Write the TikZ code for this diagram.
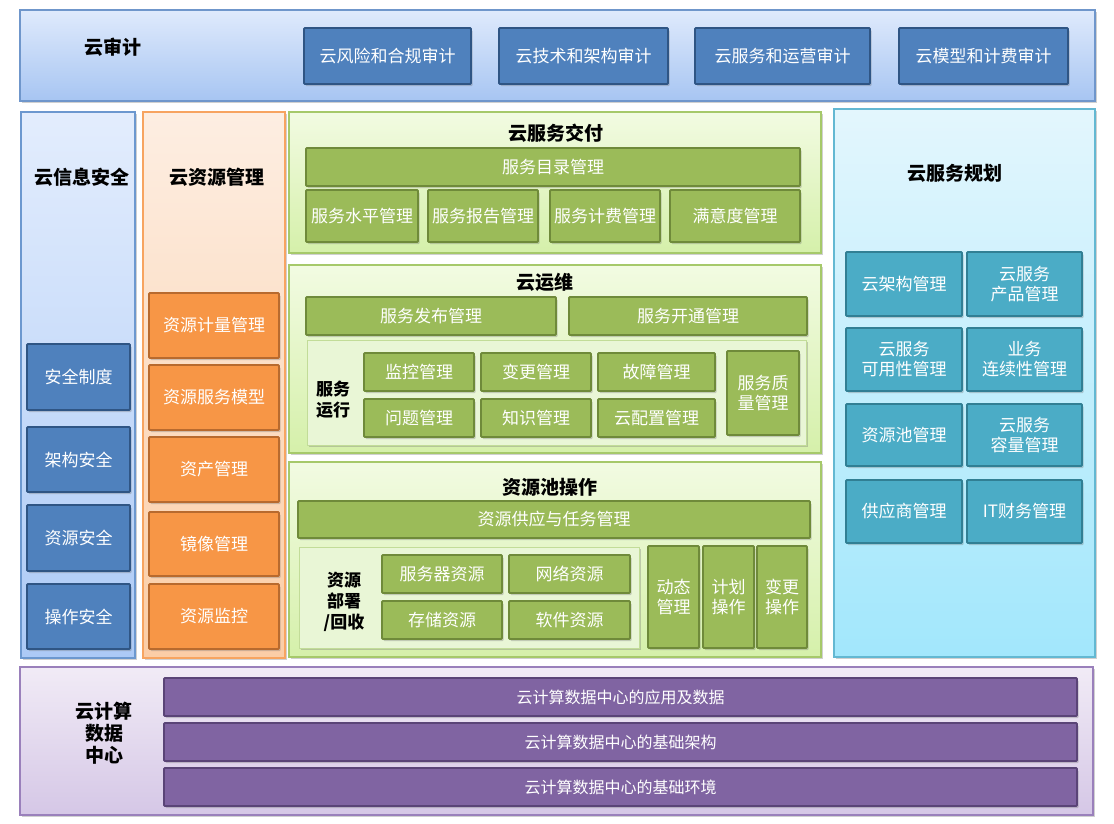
\documentclass[tikz,border=0pt]{standalone}
\usepackage{fontspec}
\setmainfont{Noto Sans CJK SC}
\usetikzlibrary{shadows}
\definecolor{bandTop}{HTML}{DFEAFC}
\definecolor{bandBot}{HTML}{A7C5F2}
\definecolor{bandDraw}{HTML}{6F96CB}
\definecolor{boxBlue}{HTML}{4F81BD}
\definecolor{boxBlueD}{HTML}{2F5584}
\definecolor{leftTop}{HTML}{E3EDFD}
\definecolor{leftBot}{HTML}{ACCAF6}
\definecolor{leftDraw}{HTML}{6C98CF}
\definecolor{orTop}{HTML}{FDEEE2}
\definecolor{orBot}{HTML}{FBCDA6}
\definecolor{orDraw}{HTML}{F7A460}
\definecolor{orBox}{HTML}{F79646}
\definecolor{orBoxD}{HTML}{B86A2E}
\definecolor{grTop}{HTML}{F2FBE2}
\definecolor{grBot}{HTML}{D5F0AA}
\definecolor{grDraw}{HTML}{A6C96A}
\definecolor{grBox}{HTML}{9BBB59}
\definecolor{grBoxD}{HTML}{6F8A3A}
\definecolor{grIn}{HTML}{E9F6D6}
\definecolor{grInD}{HTML}{C2DC98}
\definecolor{cyTop}{HTML}{E3F6FD}
\definecolor{cyBot}{HTML}{A2E7FC}
\definecolor{cyDraw}{HTML}{63B8D2}
\definecolor{teBox}{HTML}{4BACC6}
\definecolor{teBoxD}{HTML}{317F94}
\definecolor{puTop}{HTML}{F1EBF6}
\definecolor{puBot}{HTML}{D5C7E6}
\definecolor{puDraw}{HTML}{9A80BB}
\definecolor{puBox}{HTML}{8064A2}
\definecolor{puBoxD}{HTML}{5A4477}
\newcommand\mkbox[7]{\node[#1, minimum width={#5-#3}, minimum height={#6-#4}] (#2) at ({(#3+#5)/2},{(#4+#6)/2}) {#7};}
\begin{document}
\begin{tikzpicture}[x=1pt,y=-1pt,
  shad/.style={drop shadow={shadow xshift=1.5pt, shadow yshift=-2pt, opacity=0.3, fill=black!60}},
  panel/.style={shad, draw, line width=1.2pt, inner sep=0pt, outer sep=0pt},
  cellbox/.style={shad, draw, line width=1.8pt, rounded corners=1pt, text=white, align=center, inner sep=0pt, outer sep=0pt, font=\fontsize{17}{20}\selectfont},
  ttl/.style={inner sep=0pt, align=center, font=\fontsize{19}{22}\selectfont\bfseries},
  lbl/.style={inner sep=0pt, align=center, font=\fontsize{17}{21}\selectfont\bfseries},
  audit/.style={panel, draw=bandDraw, top color=bandTop, bottom color=bandBot},
  leftcol/.style={panel, draw=leftDraw, top color=leftTop, bottom color=leftBot},
  orcol/.style={panel, draw=orDraw, top color=orTop, bottom color=orBot},
  grpanel/.style={panel, draw=grDraw, top color=grTop, bottom color=grBot},
  grinner/.style={panel, draw=grInD, fill=grIn, line width=1pt},
  cycol/.style={panel, draw=cyDraw, top color=cyTop, bottom color=cyBot},
  pucol/.style={panel, draw=puDraw, top color=puTop, bottom color=puBot},
  bluecell/.style={cellbox, fill=boxBlue, draw=boxBlueD},
  orcell/.style={cellbox, fill=orBox, draw=orBoxD},
  grcell/.style={cellbox, fill=grBox, draw=grBoxD},
  tecell/.style={cellbox, fill=teBox, draw=teBoxD},
  pucell/.style={cellbox, fill=puBox, draw=puBoxD, font=\fontsize{16}{19}\selectfont}]
\useasboundingbox (0,0) rectangle (1114,823);
\fill[white] (0,0) rectangle (1114,823);

% ---- audit band
\mkbox{audit}{audit}{20}{10}{1095}{101}{}
\node[ttl] (auditT) at (113,47) {云审计};
\mkbox{bluecell}{a1}{304}{28}{471}{84}{云风险和合规审计}
\mkbox{bluecell}{a2}{499}{28}{668}{84}{云技术和架构审计}
\mkbox{bluecell}{a3}{695}{28}{870}{84}{云服务和运营审计}
\mkbox{bluecell}{a4}{899}{28}{1068}{84}{云模型和计费审计}

% ---- info security
\mkbox{leftcol}{sec}{21}{112}{135}{658}{}
\node[ttl] (secT) at (82,177) {云信息安全};
\mkbox{bluecell}{s1}{27}{344}{130}{410}{安全制度}
\mkbox{bluecell}{s2}{27}{427}{130}{492}{架构安全}
\mkbox{bluecell}{s3}{27}{505}{130}{571}{资源安全}
\mkbox{bluecell}{s4}{27}{584}{130}{649}{操作安全}

% ---- resource management
\mkbox{orcol}{res}{143}{112}{285}{658}{}
\node[ttl] (resT) at (217,177) {云资源管理};
\mkbox{orcell}{r1}{149}{293}{279}{358}{资源计量管理}
\mkbox{orcell}{r2}{149}{365}{279}{430}{资源服务模型}
\mkbox{orcell}{r3}{149}{437}{279}{502}{资产管理}
\mkbox{orcell}{r4}{149}{512}{279}{576}{镜像管理}
\mkbox{orcell}{r5}{149}{584}{279}{649}{资源监控}

% ---- service delivery
\mkbox{grpanel}{del}{289}{112}{821}{253}{}
\node[ttl] (delT) at (556,133) {云服务交付};
\mkbox{grcell}{d0}{306}{148}{800}{186}{服务目录管理}
\mkbox{grcell}{d1}{306}{190}{418}{242}{服务水平管理}
\mkbox{grcell}{d2}{428}{190}{538}{242}{服务报告管理}
\mkbox{grcell}{d3}{550}{190}{660}{242}{服务计费管理}
\mkbox{grcell}{d4}{670}{190}{800}{242}{满意度管理}

% ---- operations
\mkbox{grpanel}{ops}{289}{265}{821}{453}{}
\node[ttl] (opsT) at (545,282) {云运维};
\mkbox{grcell}{o1}{306}{297}{556}{335}{服务发布管理}
\mkbox{grcell}{o2}{569}{297}{807}{335}{服务开通管理}
\mkbox{grinner}{oin}{307}{340}{806}{445}{}
\node[lbl] (runT) at (333,400) {服务\\运行};
\mkbox{grcell}{g1}{364}{353}{474}{391}{监控管理}
\mkbox{grcell}{g2}{481}{353}{591}{391}{变更管理}
\mkbox{grcell}{g3}{598}{353}{715}{391}{故障管理}
\mkbox{grcell}{g4}{364}{399}{474}{437}{问题管理}
\mkbox{grcell}{g5}{481}{399}{591}{437}{知识管理}
\mkbox{grcell}{g6}{598}{399}{715}{437}{云配置管理}
\mkbox{grcell}{g7}{727}{351}{799}{435}{服务质\\量管理}

% ---- resource pool operation
\mkbox{grpanel}{pool}{289}{462}{821}{657}{}
\node[ttl] (poolT) at (550,487) {资源池操作};
\mkbox{grcell}{p0}{298}{501}{810}{538}{资源供应与任务管理}
\mkbox{grinner}{pin}{299}{547}{639}{648}{}
\node[lbl] (depT) at (344,602) {资源\\部署\\/回收};
\mkbox{grcell}{p1}{382}{555}{502}{593}{服务器资源}
\mkbox{grcell}{p2}{509}{555}{630}{593}{网络资源}
\mkbox{grcell}{p3}{382}{601}{502}{639}{存储资源}
\mkbox{grcell}{p4}{509}{601}{630}{639}{软件资源}
\mkbox{grcell}{p5}{648}{546}{699}{648}{动态\\管理}
\mkbox{grcell}{p6}{703}{546}{754}{648}{计划\\操作}
\mkbox{grcell}{p7}{757}{546}{807}{648}{变更\\操作}

% ---- service planning
\mkbox{cycol}{plan}{834}{109}{1095}{657}{}
\node[ttl] (planT) at (955,173) {云服务规划};
\mkbox{tecell}{q1}{846}{252}{962}{316}{云架构管理}
\mkbox{tecell}{q2}{967}{252}{1082}{316}{云服务\\产品管理}
\mkbox{tecell}{q3}{846}{328}{962}{391}{云服务\\可用性管理}
\mkbox{tecell}{q4}{967}{328}{1082}{391}{业务\\连续性管理}
\mkbox{tecell}{q5}{846}{404}{962}{466}{资源池管理}
\mkbox{tecell}{q6}{967}{404}{1082}{466}{云服务\\容量管理}
\mkbox{tecell}{q7}{846}{480}{962}{543}{供应商管理}
\mkbox{tecell}{q8}{967}{480}{1082}{543}{IT财务管理}

% ---- data centre
\mkbox{pucol}{dc}{20}{667}{1093}{815}{}
\node[inner sep=0pt, align=center, font=\fontsize{19}{22}\selectfont\bfseries] (dcT) at (104,733) {云计算\\数据\\中心};
\mkbox{pucell}{b1}{164}{678}{1077}{716}{云计算数据中心的应用及数据}
\mkbox{pucell}{b2}{164}{723}{1077}{761}{云计算数据中心的基础架构}
\mkbox{pucell}{b3}{164}{768}{1077}{806}{云计算数据中心的基础环境}
\end{tikzpicture}
\end{document}
